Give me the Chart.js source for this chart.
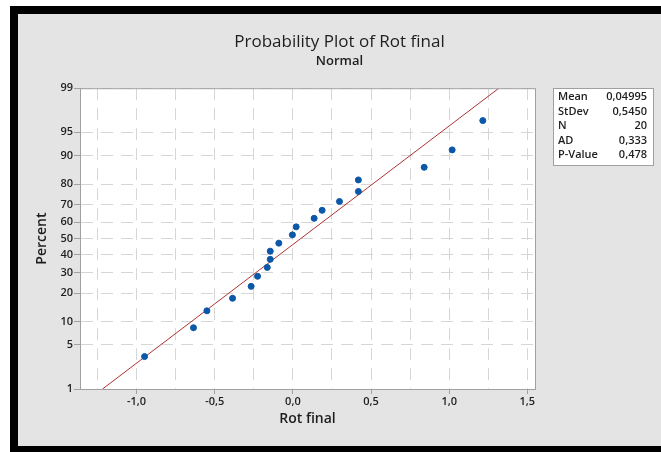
<!DOCTYPE html>
<html>
<head>
<meta charset="utf-8">
<title>Probability Plot of Rot final</title>
<script src="https://cdn.jsdelivr.net/npm/chart.js@4.4.0/dist/chart.umd.min.js"></script>
<style>
  html, body { margin: 0; padding: 0; background: #fff; width: 661px; height: 452px; overflow: hidden; }
  .frame { position: absolute; left: 10px; top: 6px; width: 700px; height: 500px; background: #000; }
  .panel { position: absolute; left: 18px; top: 14px; width: 643px; height: 432px; background: #e4e4e4; }
</style>
</head>
<body>
<div class="frame"></div>
<div class="panel"><canvas id="probChart" width="643" height="432"></canvas></div>
<script>
// Data
const rotFinal = [-0.949, -0.636, -0.550, -0.386, -0.267, -0.226, -0.164, -0.145, -0.145, -0.090,
                  -0.003, 0.021, 0.136, 0.187, 0.298, 0.419, 0.419, 0.840, 1.019, 1.215];
const percents = [3.4, 8.4, 13.2, 17.8, 23.0, 28.0, 32.8, 37.4, 42.3, 47.2,
                  52.3, 57.2, 62.3, 66.9, 71.7, 76.7, 81.8, 86.5, 91.5, 96.6];
const fitX = [-1.218, 1.318];
const fitPercent = [1, 99];

const yTicks = [1, 5, 10, 20, 30, 40, 50, 60, 70, 80, 90, 95, 99];
const xTicks = [-1.25, -1.0, -0.75, -0.5, -0.25, 0, 0.25, 0.5, 0.75, 1.0, 1.25, 1.5];

const statLabels = ['Mean', 'StDev', 'N', 'AD', 'P-Value'];
const statValues = ['0,04995', '0,5450', '20', '0,333', '0,478'];

// normal quantile (probability scale)
function probit(p) {
    const a = [-39.69683028665376, 220.9460984245205, -275.9285104469687, 138.3577518672690, -30.66479806614716, 2.506628277459239];
    const b = [-54.47609879822406, 161.5858368580409, -155.6989798598866, 66.80131188771972, -13.28068155288572];
    const c = [-0.007784894002430293, -0.3223964580411365, -2.400758277161838, -2.549732539343734, 4.374664141464968, 2.938163982698783];
    const d = [0.007784695709041462, 0.3224671290700398, 2.445134137142996, 3.754408661907416];
    let q, r;
    if (p < 0.02425) {
        q = Math.sqrt(-2 * Math.log(p));
        return (((((c[0]*q+c[1])*q+c[2])*q+c[3])*q+c[4])*q+c[5]) / ((((d[0]*q+d[1])*q+d[2])*q+d[3])*q+1);
    }
    if (p > 1 - 0.02425) {
        q = Math.sqrt(-2 * Math.log(1 - p));
        return -(((((c[0]*q+c[1])*q+c[2])*q+c[3])*q+c[4])*q+c[5]) / ((((d[0]*q+d[1])*q+d[2])*q+d[3])*q+1);
    }
    q = p - 0.5; r = q * q;
    return (((((a[0]*r+a[1])*r+a[2])*r+a[3])*r+a[4])*r+a[5])*q / (((((b[0]*r+b[1])*r+b[2])*r+b[3])*r+b[4])*r+1);
}

const FONT = '"Open Sans", "Noto Sans", sans-serif';
const TEXT = '#1e1e1e';
const FRAME = '#a0a0a0';

const isMajor = v => Math.abs(v * 2 - Math.round(v * 2)) < 1e-9;

// white plot area + outer frame + stats box
const plotFrame = {
    id: 'plotFrame',
    beforeDraw(chart) {
        const { ctx, chartArea: a } = chart;
        ctx.save();
        ctx.fillStyle = '#fff';
        ctx.fillRect(a.left, a.top, a.right - a.left, a.bottom - a.top);
        ctx.restore();
    },
    afterDraw(chart) {
        const { ctx, chartArea: a } = chart;
        ctx.save();
        ctx.strokeStyle = FRAME;
        ctx.lineWidth = 1;
        ctx.strokeRect(a.left + 0.5, a.top + 0.5, a.right - a.left, a.bottom - a.top);

        // stats box
        const bx = 535, by = 74, bw = 100, bh = 77;
        ctx.fillStyle = '#fff';
        ctx.fillRect(bx, by, bw, bh);
        ctx.strokeRect(bx + 0.5, by + 0.5, bw, bh);
        ctx.fillStyle = TEXT;
        ctx.font = '600 11px ' + FONT;
        ctx.textBaseline = 'middle';
        statLabels.forEach((lab, i) => {
            const y = by + 9 + i * 14.5;
            ctx.textAlign = 'left';
            ctx.fillText(lab, bx + 5, y);
            ctx.textAlign = 'right';
            ctx.fillText(statValues[i], bx + bw - 6, y);
        });
        ctx.restore();
    }
};

new Chart(document.getElementById('probChart').getContext('2d'), {
    type: 'scatter',
    data: {
        datasets: [{
            label: 'Rot final',
            data: rotFinal.map((x, i) => ({ x: x, y: probit(percents[i] / 100) })),
            backgroundColor: '#0b57a8',
            borderColor: '#0b57a8',
            borderWidth: 1,
            pointRadius: 3,
            pointHoverRadius: 3
        }, {
            label: 'Fit',
            type: 'line',
            data: fitX.map((x, i) => ({ x: x, y: probit(fitPercent[i] / 100) })),
            borderColor: '#b03232',
            borderWidth: 1,
            pointRadius: 0,
            fill: false
        }]
    },
    options: {
        responsive: false,
        animation: false,
        layout: { padding: { left: 0, right: 0, top: 0, bottom: 17 } },
        plugins: {
            legend: { display: false },
            tooltip: { enabled: false },
            title: {
                display: true,
                text: 'Probability Plot of Rot final',
                color: TEXT,
                font: { family: FONT, size: 17, weight: '500', lineHeight: 1.2 },
                padding: { top: 17.8, bottom: 0 }
            },
            subtitle: {
                display: true,
                text: 'Normal',
                color: TEXT,
                font: { family: FONT, size: 13, weight: '600', lineHeight: 1.2 },
                padding: { top: 1.2, bottom: 19.2 }
            }
        },
        scales: {
            x: {
                type: 'linear',
                min: -1.362,
                max: 1.549,
                afterBuildTicks: scale => { scale.ticks = xTicks.map(v => ({ value: v })); },
                afterFit: scale => { scale.height = 40; },
                grid: {
                    color: '#d6d6d6',
                    lineWidth: 1,
                    tickLength: 5,
                    tickColor: ctx => (ctx.tick && isMajor(ctx.tick.value)) ? FRAME : 'rgba(0,0,0,0)'
                },
                border: { color: FRAME, dash: [12, 8] },
                ticks: {
                    autoSkip: false,
                    maxRotation: 0,
                    padding: 1,
                    color: TEXT,
                    font: { family: FONT, size: 11, weight: '600' },
                    callback: v => isMajor(v) ? v.toFixed(1).replace('.', ',') : ''
                },
                title: {
                    display: true,
                    text: 'Rot final',
                    color: TEXT,
                    font: { family: FONT, size: 14, weight: '600', lineHeight: 1.2 },
                    padding: { top: 0, bottom: 2 }
                }
            },
            y: {
                type: 'linear',
                min: probit(0.01),
                max: probit(0.99),
                afterBuildTicks: scale => { scale.ticks = yTicks.map(p => ({ value: probit(p / 100) })); },
                afterFit: scale => { scale.width = 62; },
                grid: {
                    color: '#d6d6d6',
                    lineWidth: 1,
                    tickLength: 6,
                    tickColor: FRAME
                },
                border: { color: FRAME, dash: [12, 8] },
                ticks: {
                    autoSkip: false,
                    padding: 1,
                    color: TEXT,
                    font: { family: FONT, size: 11, weight: '600' },
                    callback: (v, i) => yTicks[i]
                },
                title: {
                    display: true,
                    text: 'Percent',
                    color: TEXT,
                    font: { family: FONT, size: 14, weight: '600', lineHeight: 1.2 },
                    padding: { top: 16, bottom: 0 }
                }
            },
            // empty right-hand margin that holds the stats box
            yRight: {
                axis: 'y',
                position: 'right',
                grid: { display: false },
                border: { display: false },
                ticks: { display: false },
                afterFit: scale => { scale.width = 126; }
            }
        }
    },
    plugins: [plotFrame]
});
</script>
</body>
</html>
